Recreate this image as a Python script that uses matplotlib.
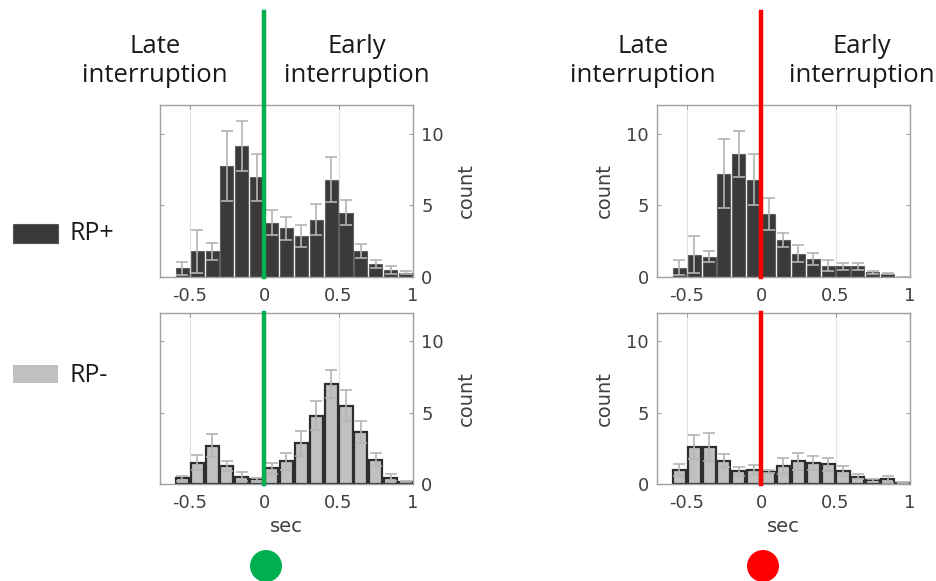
import numpy as np
import matplotlib.pyplot as plt
from matplotlib.patches import Rectangle, Circle

# bin centres (sec) shared by all four histograms
centers = np.round(np.arange(-0.55, 1.0, 0.1), 2)

# RP+ / green condition
rp_pos_green = [0.6, 1.8, 1.8, 7.75, 9.15, 6.95, 3.8, 3.4, 2.85, 4.0, 6.8, 4.5, 1.8, 0.9, 0.47, 0.3]
rp_pos_green_err = [0.45, 1.5, 0.6, 2.45, 1.75, 1.65, 0.9, 0.8, 0.75, 1.1, 1.6, 0.85, 0.5, 0.3, 0.27, 0.1]
# RP- / green condition
rp_neg_green = [0.4, 1.5, 2.7, 1.26, 0.51, 0.33, 1.1, 1.6, 2.85, 4.8, 7.0, 5.5, 3.65, 1.7, 0.44, 0.16]
rp_neg_green_err = [0.18, 0.5, 0.8, 0.34, 0.3, 0.1, 0.4, 0.6, 0.9, 1.0, 1.0, 1.1, 0.8, 0.45, 0.24, 0.05]
# RP+ / red condition
rp_pos_red = [0.66, 1.57, 1.43, 7.2, 8.6, 6.8, 4.4, 2.6, 1.64, 1.26, 0.8, 0.75, 0.75, 0.33, 0.23, 0.03]
rp_pos_red_err = [0.54, 1.28, 0.4, 2.4, 1.6, 1.8, 1.1, 0.5, 0.56, 0.44, 0.37, 0.25, 0.25, 0.11, 0.05, 0.0]
# RP- / red condition
rp_neg_red = [0.98, 2.6, 2.6, 1.63, 0.89, 0.98, 0.86, 1.28, 1.58, 1.47, 1.37, 0.9, 0.51, 0.26, 0.33, 0.1]
rp_neg_red_err = [0.39, 0.87, 1.0, 0.47, 0.31, 0.37, 0.1, 0.56, 0.62, 0.49, 0.47, 0.36, 0.17, 0.09, 0.23, 0.02]

xticks = [-0.5, 0, 0.5, 1]
xticklabels = ['-0.5', '0', '0.5', '1']
yticks = [0, 5, 10]

GREEN = '#00b050'
RED = '#ff0000'
DARK = '#3a3a3a'
LIGHT = '#c0c0c0'
TXT = '#404040'
LBL_FONT = 'Open Sans'

fig = plt.figure(figsize=(9.36, 5.81), dpi=100)


def panel(rect, vals, errs, face, edge, lw, line_col, right_side, line_top, xlabel=False):
    ax = fig.add_axes(rect)
    ax.bar(centers, vals, width=0.088, color=face, edgecolor=edge, linewidth=lw, zorder=2)
    ax.errorbar(centers, vals, yerr=errs, fmt='none', ecolor='#b4b4b4', elinewidth=1.2,
                capsize=4, capthick=1.2, zorder=3)
    ax.set_xlim(-0.7, 1.0)
    ax.set_ylim(0, 12)
    ax.set_xticks(xticks)
    ax.set_xticklabels(xticklabels)
    ax.set_yticks(yticks)
    ax.grid(axis='x', color='#e0e0e0', linewidth=0.8, zorder=0)
    ax.set_axisbelow(True)
    for s in ax.spines.values():
        s.set_color('#a0a0a0')
        s.set_linewidth(1.0)
    ax.tick_params(direction='in', length=3, color='#a0a0a0', labelcolor=TXT,
                   labelsize=13, top=True, right=True, left=True)
    ax.tick_params(axis='x', pad=7)
    ax.tick_params(axis='y', pad=6)
    if right_side:
        ax.yaxis.tick_right()
        ax.yaxis.set_ticks_position('both')
        ax.yaxis.set_label_position('right')
        ax.tick_params(axis='y', labelleft=False, labelright=True)
    ax.set_ylabel('count', color=TXT, fontsize=14, labelpad=9)
    if xlabel:
        ax.set_xlabel('sec', color=TXT, fontsize=14, labelpad=4)
    ax.axvline(0, ymin=0, ymax=line_top, color=line_col, linewidth=3.2, clip_on=False, zorder=4)
    return ax


top_line = (277 - 12) / 172
panel([0.1709, 0.5232, 0.2703, 0.296], rp_pos_green, rp_pos_green_err, DARK, '#606060', 0.8,
      GREEN, True, top_line)
panel([0.1709, 0.167, 0.2703, 0.2943], rp_neg_green, rp_neg_green_err, LIGHT, '#2e2e2e', 1.6,
      GREEN, True, 1.0, xlabel=True)
panel([0.7019, 0.5232, 0.2703, 0.296], rp_pos_red, rp_pos_red_err, DARK, '#606060', 0.8,
      RED, False, top_line)
panel([0.7019, 0.167, 0.2703, 0.2943], rp_neg_red, rp_neg_red_err, LIGHT, '#2e2e2e', 1.6,
      RED, False, 1.0, xlabel=True)

# header labels
for x, s in [(155, 'Late\ninterruption'), (357, 'Early\ninterruption'),
             (643, 'Late\ninterruption'), (862, 'Early\ninterruption')]:
    fig.text(x / 936, 1 - 61 / 581, s, ha='center', va='center', fontsize=18.5,
             family=LBL_FONT, color='#1a1a1a', linespacing=1.2)

# legend patches
fig.patches.append(Rectangle((13 / 936, 1 - 243 / 581), 45 / 936, 19 / 581,
                             transform=fig.transFigure, facecolor=DARK, edgecolor='#555555', lw=0.8))
fig.text(69 / 936, 1 - 234 / 581, 'RP+', ha='left', va='center', fontsize=18,
         family=LBL_FONT, color='#1a1a1a')
fig.patches.append(Rectangle((13 / 936, 1 - 383 / 581), 45 / 936, 18 / 581,
                             transform=fig.transFigure, facecolor=LIGHT, edgecolor='none'))
fig.text(69 / 936, 1 - 375 / 581, 'RP-', ha='left', va='center', fontsize=18,
         family=LBL_FONT, color='#1a1a1a')

# condition markers
for x, c in [(266, GREEN), (763, RED)]:
    fig.patches.append(Circle((x, 581 - 566), 16, transform=None, facecolor=c, edgecolor='none'))

fig.savefig('out.png', dpi=100)
